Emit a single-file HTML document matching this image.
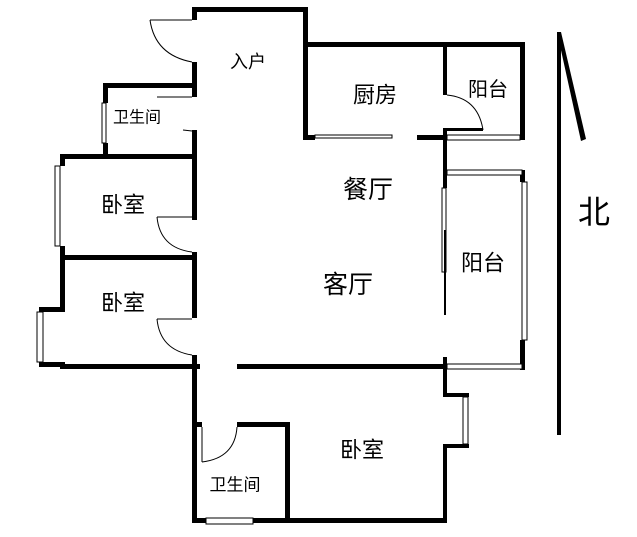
<!DOCTYPE html>
<html><head><meta charset="utf-8"><style>
html,body{margin:0;padding:0;background:#fff;}
svg{display:block}
text{font-family:"Liberation Sans","Noto Sans CJK SC",sans-serif;fill:#000;text-anchor:middle;dominant-baseline:central}
</style></head><body>
<svg width="637" height="537" viewBox="0 0 637 537" xmlns="http://www.w3.org/2000/svg">
<g fill="#000">
<rect x="192" y="7" width="116" height="5"/>
<rect x="303" y="7" width="5" height="133"/>
<rect x="192" y="7" width="5" height="13"/>
<rect x="192" y="62" width="5" height="35"/>
<rect x="103" y="83" width="94" height="5"/>
<rect x="103" y="83" width="5" height="20"/>
<rect x="103" y="143" width="5" height="15"/>
<rect x="192" y="130" width="5" height="90"/>
<rect x="60" y="154" width="137" height="5"/>
<rect x="60" y="154" width="5" height="12"/>
<rect x="60" y="246" width="5" height="14"/>
<rect x="192" y="252" width="5" height="66"/>
<rect x="60" y="255" width="137" height="5"/>
<rect x="60" y="255" width="5" height="57"/>
<rect x="39" y="307" width="26" height="5"/>
<rect x="39" y="362" width="26" height="5"/>
<rect x="60" y="364" width="140" height="5"/>
<rect x="192" y="355" width="5" height="168"/>
<rect x="237" y="364" width="208" height="5"/>
<rect x="303" y="42" width="222" height="5"/>
<rect x="303" y="135" width="12" height="5"/>
<rect x="417" y="135" width="30" height="5"/>
<rect x="443" y="42" width="4" height="53"/>
<rect x="443" y="130" width="4" height="58"/>
<rect x="443" y="128" width="40" height="3"/>
<rect x="520" y="42" width="5" height="98"/>
<rect x="520" y="170" width="5" height="12"/>
<rect x="520" y="340" width="5" height="30"/>
<rect x="443" y="357" width="4" height="38"/>
<rect x="443" y="445" width="4" height="78"/>
<rect x="443" y="393" width="26" height="4"/>
<rect x="443" y="444" width="26" height="4"/>
<rect x="192" y="518" width="255" height="5"/>
<rect x="237" y="422" width="53" height="5"/>
<rect x="192" y="422" width="10" height="5"/>
<rect x="285" y="422" width="5" height="101"/>
<rect x="557" y="32" width="4" height="403"/>
</g>
<polygon points="557,32 561,32 586,139 581,141" fill="#000"/>
<g fill="#fff" stroke="#000" stroke-width="1">
<line x1="150" y1="20" x2="192" y2="20"/><path fill="none" d="M150,20 Q155,55 192,62"/>
<line x1="157" y1="97" x2="192" y2="97"/><path fill="none" d="M183,130 L192,131"/>
<line x1="157" y1="217" x2="192" y2="217"/><path fill="none" d="M157,217 Q160,248 192,252"/>
<line x1="157" y1="319" x2="192" y2="319"/><path fill="none" d="M157,319 Q160,350 192,355"/>
<path fill="none" d="M447,95 Q478,98 483,130"/>
<line x1="202" y1="427" x2="202" y2="462"/><path fill="none" d="M202,462 Q235,458 237,427"/>
<rect x="102" y="103" width="4" height="40"/>
<rect x="55" y="166" width="5" height="80"/>
<rect x="37" y="312" width="6" height="50"/>
<rect x="315" y="135" width="77" height="3"/>
<rect x="447" y="135" width="73" height="5"/>
<rect x="447" y="170" width="75" height="5"/>
<rect x="522" y="182" width="5" height="158"/>
<rect x="447" y="364" width="75" height="5"/>
<rect x="442" y="188" width="4" height="84"/>
<rect x="463" y="397" width="5" height="47"/>
<rect x="206" y="518" width="47" height="6"/>
</g>
<line x1="445" y1="230" x2="445" y2="315" stroke="#000" stroke-width="2"/>
<text x="248" y="62" font-size="18">入户</text>
<text x="137" y="118" font-size="16">卫生间</text>
<text x="123" y="205" font-size="22">卧室</text>
<text x="123" y="303" font-size="22">卧室</text>
<text x="375" y="95" font-size="22">厨房</text>
<text x="488" y="90" font-size="20">阳台</text>
<text x="368" y="190" font-size="25">餐厅</text>
<text x="348" y="285" font-size="25">客厅</text>
<text x="483" y="263" font-size="22">阳台</text>
<text x="235" y="485" font-size="17">卫生间</text>
<text x="362" y="450" font-size="22">卧室</text>
<text x="594" y="212" font-size="32">北</text>
</svg>
</body></html>
